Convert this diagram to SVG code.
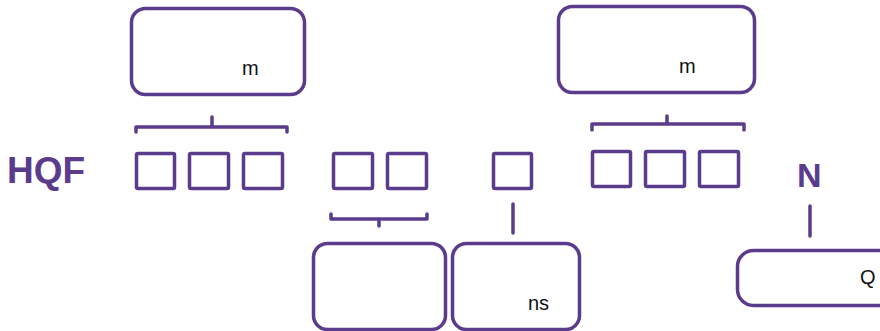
<svg xmlns="http://www.w3.org/2000/svg" width="880" height="331" viewBox="0 0 880 331">
<style>
.b{fill:#fff;stroke:#5b3b8c;stroke-width:3.5}
.sq{fill:#fff;stroke:#5b3b8c;stroke-width:3.5}
.c{fill:none;stroke:#5b3b8c;stroke-width:3.5;stroke-linecap:round;stroke-linejoin:round}
.t{font-family:"Liberation Sans",Arial,sans-serif;font-size:20px;fill:#111}
.h{font-family:"Liberation Sans",Arial,sans-serif;font-weight:bold;fill:#5b3b8c}
</style>
<rect width="880" height="331" fill="#fff"/>
<g id="connectors">
<path class="c" d="M136,132 V127 H287 V132 M212,127 V117"/>
<path class="c" d="M592,130 V124 H744 V130 M667,124 V116"/>
<path class="c" d="M331,214 V219 H427 V214 M379,219 V226"/>
<path class="c" d="M513,204 V233"/>
<path class="c" d="M810,206 V236"/>
</g>
<g id="topbox1"><rect class="b" x="131.5" y="8.5" width="173" height="86" rx="14"/><text class="t" x="242" y="75">m</text></g>
<g id="topbox2"><rect class="b" x="558.5" y="6.5" width="196" height="86" rx="14"/><text class="t" x="679" y="73">m</text></g>
<g id="label-HQF"><text class="h" x="7" y="183" font-size="37">HQF</text></g>
<g id="label-N"><text class="h" x="797" y="187" font-size="34">N</text></g>
<g id="sq1"><rect class="sq" x="136.5" y="153.5" width="38" height="35" rx="1.5"/></g>
<g id="sq2"><rect class="sq" x="189.5" y="153.5" width="39" height="35" rx="1.5"/></g>
<g id="sq3"><rect class="sq" x="243.5" y="153.5" width="39" height="35" rx="1.5"/></g>
<g id="sq4"><rect class="sq" x="333.5" y="153.5" width="39" height="35" rx="1.5"/></g>
<g id="sq5"><rect class="sq" x="387.5" y="153.5" width="39" height="35" rx="1.5"/></g>
<g id="sq6"><rect class="sq" x="493.5" y="153.5" width="38" height="35" rx="1.5"/></g>
<g id="sq7"><rect class="sq" x="592.5" y="151.5" width="38" height="35" rx="1.5"/></g>
<g id="sq8"><rect class="sq" x="645.5" y="151.5" width="39" height="35" rx="1.5"/></g>
<g id="sq9"><rect class="sq" x="699.5" y="151.5" width="39" height="35" rx="1.5"/></g>
<g id="botbox1"><rect class="b" x="313.5" y="243.5" width="132" height="86" rx="14"/></g>
<g id="botbox2"><rect class="b" x="452.5" y="243.5" width="127" height="86" rx="14"/><text class="t" x="528" y="310">ns</text></g>
<g id="botbox3"><rect class="b" x="737.5" y="250.5" width="170" height="55" rx="16"/><text class="t" x="860" y="284">Q</text></g>
</svg>
